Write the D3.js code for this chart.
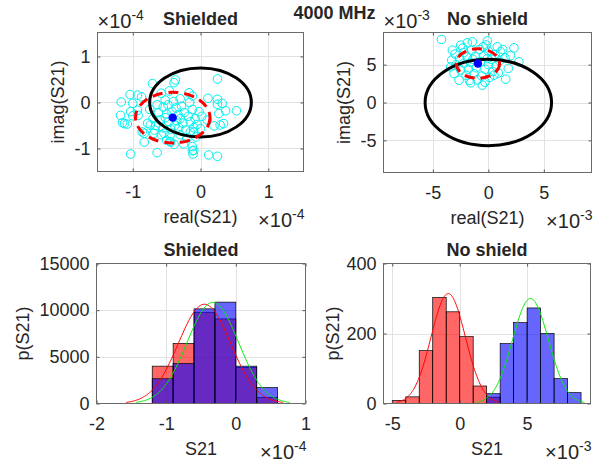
<!DOCTYPE html>
<html><head><meta charset="utf-8">
<script src="https://cdn.jsdelivr.net/npm/d3@7"></script>
<style>
body{margin:0;background:#fff;}
text{font-family:"Liberation Sans",Arial,Helvetica,sans-serif;fill:#262626;}
</style></head><body>
<svg id="c" width="601" height="466"></svg>
<script>
// ---------------- DATA ----------------
const figTitle = "4000 MHz";
const panelTitles = ["Shielded", "No shield"];

// Scatter of S21 samples (real, imag); shielded in units of 1e-4, no shield in units of 1e-3
const shieldedPoints = [
  [-1.17,0.01],[-1.04,0.17],[-0.93,0.16],[-0.87,0.12],[-0.71,0.41],[-0.37,0.49],[-0.39,0.43],
  [-0.17,0.21],[-0.12,0.14],[0.25,0.51],[0.11,0.09],[0.25,0.07],[0.25,-0.04],[0.37,-0.18],
  [0.53,-0.18],[0.2,-0.51],[0.29,-0.49],[-1.18,-0.28],[-1.12,-0.46],[-1.15,-0.44],[-1.08,-0.47],
  [-1.0,-0.29],[-0.93,-0.17],[-0.83,-0.67],[-0.83,-0.86],[-1.03,-1.12],[-0.64,-1.09],[-0.5,-0.82],
  [-0.39,-0.91],[-0.12,-1.05],[-0.11,-1.12],[-0.12,-0.96],[0.12,-1.14],[0.25,-1.17],[-0.07,-0.75],
  [0.0,-0.57],[-0.15,-0.64],[-1.0,-0.02],[-1.03,-0.2],[-0.74,-0.49],[-0.92,-0.28],[-0.69,-0.67],
  [-0.86,-0.64],[0.32,-0.02],[0.27,-0.24],[0.34,-0.46],[0.1,-0.38],[-0.1,-1.04],[-0.44,-0.86],
  [-0.54,-0.67],[-0.1,-0.64],[-0.02,-0.2],
  [-0.55,-0.1],[-0.48,-0.05],[-0.36,-0.12],[-0.28,-0.08],[-0.62,-0.22],[-0.5,-0.25],[-0.42,-0.2],
  [-0.33,-0.27],[-0.24,-0.22],[-0.18,-0.3],[-0.7,-0.35],[-0.6,-0.38],[-0.47,-0.42],[-0.35,-0.4],
  [-0.26,-0.45],[-0.15,-0.42],[-0.08,-0.35],[-0.66,-0.5],[-0.55,-0.55],[-0.44,-0.58],[-0.32,-0.55],
  [-0.22,-0.6],[-0.58,-0.7],[-0.45,-0.72],[-0.3,-0.7],[-0.2,-0.78],[-0.52,0.05],[-0.4,0.02],
  [-0.3,0.08],[-0.64,-0.05],[-0.75,-0.15],[-0.12,-0.15],[-0.05,-0.48],[-0.38,-0.5],[-0.52,-0.33],
  [-0.3,-0.35],[-0.68,-0.6],[-0.1,-0.55],[-0.45,-0.85],[-0.25,-0.9],[-0.58,0.2],[-0.46,0.25],
  [-0.78,-0.45],[-0.16,0.0],[0.02,-0.3]
];
const noShieldPoints = [
  [-4.23,8.33],[-3.24,6.92],[-2.49,7.58],[-1.89,7.89],[-1.44,8.02],[-0.09,8.15],[-0.45,7.36],
  [0.81,7.36],[1.11,6.7],[2.31,7.22],[2.76,5.37],[1.56,3.08],[-0.54,2.29],[-1.59,2.6],
  [-3.39,4.71],[-3.09,3.83],[-2.64,2.95],[0.51,3.61],
  [-2.2,6.6],[-1.5,6.9],[-0.8,7.0],[0.0,6.8],[0.6,6.3],[-2.6,5.8],[-1.9,6.0],[-1.2,6.1],
  [-0.4,6.2],[0.3,5.7],[1.0,5.5],[-2.9,5.0],[-2.2,5.2],[-1.6,5.3],[-0.7,5.4],[0.0,5.0],
  [0.7,4.8],[1.5,5.9],[-2.5,4.3],[-1.8,4.4],[-1.1,4.6],[-0.3,4.4],[0.4,4.1],[-2.0,3.6],
  [-1.3,3.8],[-0.6,3.5],[0.1,3.3],[-1.0,3.0],[-2.3,7.2],[-0.2,7.6],[1.3,7.0],[-3.0,6.4],
  [1.8,4.5],[-1.4,5.7],[-0.1,5.8],[-3.3,5.6],[-1.7,2.9],[-0.3,2.7],[0.9,3.9],[2.0,6.2]
];
// mean point, std-circle radius, reference circle radius
const shieldedMean = [-0.41, -0.33];
const shieldedStdRadius = 0.55;
const shieldedRefRadius = 0.75;
const noShieldMean = [-0.94, 5.15];
const noShieldStdRadius = 1.95;
const noShieldRefRadius = 5.7;

// Histograms (pdf-normalised)
const shieldedRealEdges = [-1.2,-0.9,-0.6,-0.3,0,0.3,0.6];
const shieldedRealDensity = [4000,6440,9780,9060,3850,650];
const shieldedImagEdges = [-1.2,-0.9,-0.6,-0.3,0,0.3,0.6];
const shieldedImagDensity = [2650,4280,10140,10860,4000,1700];
const noShieldRealEdges = [-5,-4,-3,-2,-1,0,1,2,3];
const noShieldRealDensity = [9,19,151,303,262,191,50,18];
const noShieldImagEdges = [2,3,4,5,6,7,8,9];
const noShieldImagDensity = [28,171,231,273,200,71,31];
// Gaussian fits [mean, sigma]
const shieldedRealFit = [-0.45, 0.375];
const shieldedImagFit = [-0.33, 0.368];
const noShieldRealFit = [-0.85, 1.27];
const noShieldImagFit = [5.25, 1.33];

// tick values
const shieldedScatterTicks = [-1,0,1];
const noShieldScatterTicks = [-5,0,5];
const shieldedHistXTicks = [-2,-1,0,1];
const shieldedHistYTicks = [0,5000,10000,15000];
const noShieldHistXTicks = [-5,0,5];
const noShieldHistYTicks = [0,200,400];

// ---------------- DRAWING ----------------
const svg = d3.select("#c");
const fmt = d => String(d);

function panel(cfg){
  const g = svg.append("g");
  const x = d3.scaleLinear().domain(cfg.xDomain).range([cfg.x0, cfg.x1]);
  const y = d3.scaleLinear().domain(cfg.yDomain).range([cfg.y1, cfg.y0]);
  g.append("g").selectAll("line").data(cfg.xTicks.filter(d=>x(d)>cfg.x0+1 && x(d)<cfg.x1-1)).join("line")
    .attr("x1",d=>Math.round(x(d))+0.5).attr("x2",d=>Math.round(x(d))+0.5)
    .attr("y1",cfg.y0).attr("y2",cfg.y1).attr("stroke","#e2e2e2").attr("stroke-width",1);
  g.append("g").selectAll("line").data(cfg.yTicks.filter(d=>y(d)>cfg.y0+1 && y(d)<cfg.y1-1)).join("line")
    .attr("y1",d=>Math.round(y(d))+0.5).attr("y2",d=>Math.round(y(d))+0.5)
    .attr("x1",cfg.x0).attr("x2",cfg.x1).attr("stroke","#e2e2e2").attr("stroke-width",1);
  const plot = g.append("g");
  const axes = g.append("g");
  return {g, plot, axes, x, y, cfg};
}

function finishAxes(p, labels){
  const {axes, x, y, cfg} = p;
  const bx = axes.append("g").attr("transform",`translate(0,${cfg.y1})`)
    .call(d3.axisBottom(x).tickValues(cfg.xTicks).tickFormat(fmt).tickSizeInner(-3).tickSizeOuter(0).tickPadding(14));
  const ly = axes.append("g").attr("transform",`translate(${cfg.x0},0)`)
    .call(d3.axisLeft(y).tickValues(cfg.yTicks).tickFormat(fmt).tickSizeInner(-3).tickSizeOuter(0).tickPadding(7));
  const tx = axes.append("g").attr("transform",`translate(0,${cfg.y0})`)
    .call(d3.axisTop(x).tickValues(cfg.xTicks).tickFormat("").tickSizeInner(-3).tickSizeOuter(0));
  const ry = axes.append("g").attr("transform",`translate(${cfg.x1},0)`)
    .call(d3.axisRight(y).tickValues(cfg.yTicks).tickFormat("").tickSizeInner(-3).tickSizeOuter(0));
  [bx,ly,tx,ry].forEach(a=>{
    a.select(".domain").remove();
    a.selectAll(".tick line").attr("stroke","#555");
    a.selectAll(".tick text").attr("font-size",18).attr("fill","#262626")
      .attr("font-family","'Liberation Sans', Arial, sans-serif");
  });
  axes.append("rect").attr("x",cfg.x0).attr("y",cfg.y0)
    .attr("width",cfg.x1-cfg.x0).attr("height",cfg.y1-cfg.y0)
    .attr("fill","none").attr("stroke","#6a6a6a").attr("stroke-width",1);
  axes.append("text").attr("x",(cfg.x0+cfg.x1)/2).attr("y",cfg.y0-7.5)
    .attr("text-anchor","middle").attr("font-size",18).attr("font-weight","bold")
    .attr("fill","#000").text(labels.title);
  axes.append("text").attr("x",(cfg.x0+cfg.x1)/2).attr("y",cfg.y1+51)
    .attr("text-anchor","middle").attr("font-size",18).text(labels.xlabel);
  axes.append("text").attr("transform",`translate(${cfg.x0-labels.ylabelOffset},${(cfg.y0+cfg.y1)/2}) rotate(-90)`)
    .attr("text-anchor","middle").attr("font-size",18).text(labels.ylabel);
  const expo = (t, xx, yy, anchor) => {
    const e = axes.append("text").attr("x",xx).attr("y",yy).attr("text-anchor",anchor).attr("font-size",20);
    e.append("tspan").text("\u00d710");
    e.append("tspan").attr("dy",-8).attr("font-size",14).text(t);
  };
  if (labels.yExp) expo(labels.yExp, cfg.x0, cfg.y0-5, "start");
  if (labels.xExp) expo(labels.xExp, cfg.x1+1, cfg.y1+55.5, "end");
}

function scatterPanel(p, pts, mean, stdR, refR){
  const {plot, x, y} = p;
  plot.selectAll("circle.s").data(pts).join("circle").attr("class","s")
    .attr("cx",d=>x(d[0])).attr("cy",d=>y(d[1])).attr("r",4.3)
    .attr("fill","none").attr("stroke","#00f0f0").attr("stroke-width",1);
  plot.append("ellipse").attr("cx",x(0)).attr("cy",y(0))
    .attr("rx",Math.abs(x(refR)-x(0))).attr("ry",Math.abs(y(refR)-y(0)))
    .attr("fill","none").attr("stroke","#000").attr("stroke-width",3);
  plot.append("ellipse").attr("cx",x(mean[0])).attr("cy",y(mean[1]))
    .attr("rx",Math.abs(x(mean[0]+stdR)-x(mean[0]))).attr("ry",Math.abs(y(mean[1]+stdR)-y(mean[1])))
    .attr("fill","none").attr("stroke","#ff0000").attr("stroke-width",3).attr("stroke-dasharray","10,6");
  plot.append("circle").attr("cx",x(mean[0])).attr("cy",y(mean[1])).attr("r",4.2).attr("fill","#0000ff");
}

function histPanel(p, edges, dens, color){
  const {plot, x, y} = p;
  plot.append("g").selectAll("rect").data(dens).join("rect")
    .attr("x",(d,i)=>x(edges[i])).attr("width",(d,i)=>x(edges[i+1])-x(edges[i]))
    .attr("y",d=>y(d)).attr("height",d=>y(0)-y(d))
    .attr("fill",color).attr("fill-opacity",0.6).attr("stroke","#000").attr("stroke-width",0.7);
}

function fitCurve(p, fit, unit, color){
  const {plot, x, y} = p;
  const [mu, s] = fit;
  const xs = d3.range(0, 201).map(i => mu - 3*s + i*(6*s/200));
  const pdf = v => Math.exp(-0.5*((v-mu)/s)**2)/(s*Math.sqrt(2*Math.PI))/unit;
  plot.append("path").datum(xs)
    .attr("d", d3.line().x(v=>x(v)).y(v=>y(pdf(v))))
    .attr("fill","none").attr("stroke",color).attr("stroke-width",1);
}

const tl = panel({x0:97.5,x1:303.5,y0:32.5,y1:171.5,xDomain:[-1.52,1.52],yDomain:[-1.5,1.52],
  xTicks:shieldedScatterTicks,yTicks:shieldedScatterTicks});
scatterPanel(tl, shieldedPoints, shieldedMean, shieldedStdRadius, shieldedRefRadius);
finishAxes(tl,{title:panelTitles[0],xlabel:"real(S21)",ylabel:"imag(S21)",ylabelOffset:34,yExp:"-4",xExp:"-4"});

const tr = panel({x0:383.5,x1:591.5,y0:32.5,y1:172.5,xDomain:[-9.45,9.3],yDomain:[-9.25,9.25],
  xTicks:noShieldScatterTicks,yTicks:noShieldScatterTicks});
scatterPanel(tr, noShieldPoints, noShieldMean, noShieldStdRadius, noShieldRefRadius);
finishAxes(tr,{title:panelTitles[1],xlabel:"real(S21)",ylabel:"imag(S21)",ylabelOffset:34,yExp:"-3",xExp:"-3"});

const bl = panel({x0:96.5,x1:305.5,y0:263.5,y1:403.5,xDomain:[-2,1],yDomain:[0,15000],
  xTicks:shieldedHistXTicks,yTicks:shieldedHistYTicks});
histPanel(bl, shieldedRealEdges, shieldedRealDensity, "#ff0000");
histPanel(bl, shieldedImagEdges, shieldedImagDensity, "#0000ff");
fitCurve(bl, shieldedRealFit, 1e-4, "#ff0000");
fitCurve(bl, shieldedImagFit, 1e-4, "#00ee00");
finishAxes(bl,{title:panelTitles[0],xlabel:"S21",ylabel:"p(S21)",ylabelOffset:68,xExp:"-4"});

const br = panel({x0:383.5,x1:590.5,y0:263.5,y1:403.5,xDomain:[-5.65,9.7],yDomain:[0,400],
  xTicks:noShieldHistXTicks,yTicks:noShieldHistYTicks});
histPanel(br, noShieldRealEdges, noShieldRealDensity, "#ff0000");
histPanel(br, noShieldImagEdges, noShieldImagDensity, "#0000ff");
fitCurve(br, noShieldRealFit, 1e-3, "#ff0000");
fitCurve(br, noShieldImagFit, 1e-3, "#00ee00");
finishAxes(br,{title:panelTitles[1],xlabel:"S21",ylabel:"p(S21)",ylabelOffset:45,xExp:"-3"});

svg.append("text").attr("x",334.5).attr("y",18.5).attr("text-anchor","middle")
  .attr("font-size",18).attr("font-weight","bold").attr("fill","#000").text(figTitle);
</script>
</body></html>
